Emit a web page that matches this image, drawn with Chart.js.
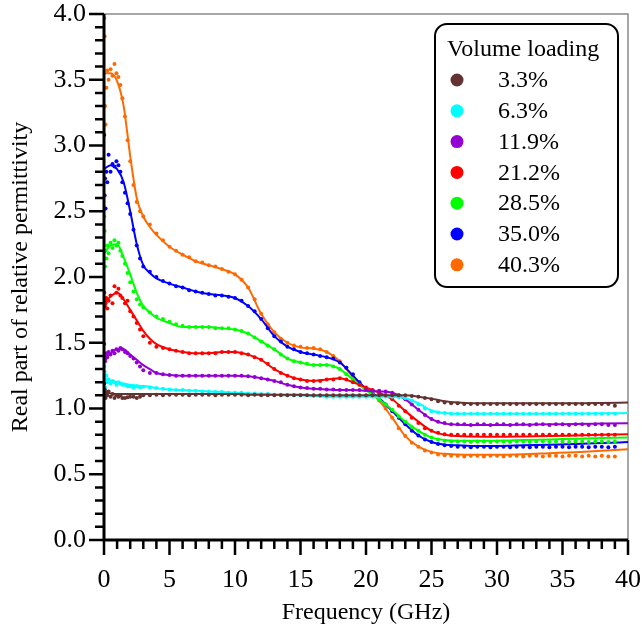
<!DOCTYPE html>
<html>
<head>
<meta charset="utf-8">
<script src="https://cdn.jsdelivr.net/npm/chart.js@4.4.0/dist/chart.umd.min.js"></script>
<style>
  html, body { margin: 0; padding: 0; background: #fff; }
  #wrap { width: 642px; height: 637px; }
</style>
</head>
<body>
<div id="wrap"><canvas id="chart" width="642" height="637"></canvas></div>
<script>
// Fitted curves (GHz)
const fitFreq = [0, 0.5, 1, 1.5, 2, 2.5, 3, 3.5, 4, 5, 6, 7, 8, 9, 10, 11, 12, 13, 14, 15, 16, 17, 18, 19, 20,
                 21, 22, 23, 24, 25, 26, 27, 28, 30, 32, 34, 36, 38, 40];

const fit33  = [1.12, 1.115, 1.11, 1.11, 1.11, 1.11, 1.11, 1.11, 1.11, 1.11, 1.11, 1.11, 1.11, 1.11, 1.11, 1.105, 1.105, 1.105, 1.105, 1.105, 1.10, 1.10, 1.10, 1.10, 1.10,
                1.10, 1.10, 1.10, 1.09, 1.075, 1.055, 1.045, 1.04, 1.04, 1.04, 1.04, 1.04, 1.042, 1.045];
const fit63  = [1.22, 1.21, 1.20, 1.19, 1.18, 1.175, 1.17, 1.165, 1.155, 1.145, 1.14, 1.135, 1.13, 1.125, 1.12, 1.115, 1.11, 1.105, 1.10, 1.10, 1.095, 1.09, 1.09, 1.09, 1.09,
                1.09, 1.09, 1.08, 1.04, 0.985, 0.965, 0.96, 0.96, 0.96, 0.96, 0.96, 0.962, 0.963, 0.965];
const fit119 = [1.38, 1.42, 1.45, 1.45, 1.41, 1.37, 1.33, 1.30, 1.27, 1.255, 1.25, 1.25, 1.25, 1.25, 1.25, 1.245, 1.23, 1.21, 1.18, 1.16, 1.15, 1.145, 1.14, 1.14, 1.135,
                1.13, 1.12, 1.07, 0.99, 0.92, 0.885, 0.877, 0.875, 0.875, 0.877, 0.88, 0.882, 0.885, 0.888];
const fit212 = [1.80, 1.85, 1.88, 1.83, 1.75, 1.67, 1.59, 1.53, 1.49, 1.45, 1.43, 1.42, 1.42, 1.43, 1.43, 1.41, 1.37, 1.30, 1.25, 1.22, 1.21, 1.22, 1.23, 1.20, 1.16,
                1.12, 1.07, 0.98, 0.90, 0.83, 0.80, 0.79, 0.787, 0.785, 0.787, 0.79, 0.795, 0.80, 0.805];
const fit285 = [2.18, 2.24, 2.25, 2.15, 2.02, 1.88, 1.78, 1.73, 1.69, 1.65, 1.62, 1.62, 1.62, 1.61, 1.60, 1.57, 1.51, 1.45, 1.38, 1.35, 1.33, 1.33, 1.30, 1.22, 1.14,
                1.07, 0.99, 0.90, 0.83, 0.78, 0.76, 0.755, 0.755, 0.755, 0.76, 0.765, 0.77, 0.775, 0.78];
const fit350 = [2.82, 2.85, 2.82, 2.72, 2.50, 2.25, 2.09, 2.03, 1.99, 1.95, 1.92, 1.89, 1.87, 1.86, 1.84, 1.78, 1.68, 1.55, 1.47, 1.43, 1.41, 1.39, 1.35, 1.25, 1.15,
                1.08, 0.98, 0.88, 0.795, 0.745, 0.725, 0.72, 0.715, 0.715, 0.72, 0.725, 0.73, 0.737, 0.745];
const fit403 = [3.55, 3.55, 3.49, 3.30, 2.92, 2.60, 2.46, 2.38, 2.32, 2.23, 2.17, 2.12, 2.09, 2.06, 2.02, 1.92, 1.72, 1.58, 1.50, 1.465, 1.455, 1.43, 1.36, 1.24, 1.15,
                1.06, 0.93, 0.79, 0.71, 0.67, 0.655, 0.65, 0.648, 0.648, 0.652, 0.66, 0.668, 0.678, 0.69];

// Measured points (GHz)
const measFreq = [0.02, 0.05, 0.08, 0.12, 0.18, 0.25, 0.35, 0.5, 0.65, 0.8, 0.95, 1.1, 1.25, 1.4, 1.6, 1.8, 2.0, 2.25, 2.5, 2.75,
                  3, 3.5, 4, 4.5, 5, 5.5, 6, 6.5, 7, 7.5, 8, 8.5, 9, 9.5, 10,
                  10.5, 11, 11.5, 12, 12.5, 13, 13.5, 14, 14.5, 15, 15.5, 16, 16.5, 17, 17.5,
                  18, 18.5, 19, 19.5, 20, 20.5, 21, 21.5, 22, 22.5, 23, 23.5, 24, 24.5, 25,
                  25.5, 26, 26.5, 27, 27.5, 28, 28.5, 29, 29.5, 30, 30.5, 31, 31.5, 32, 32.5,
                  33, 33.5, 34, 34.5, 35, 35.5, 36, 36.5, 37, 37.5, 38, 38.5, 39];

const meas33 = [1.19, 1.10, 1.14, 1.08, 1.12, 1.10, 1.13, 1.09, 1.11, 1.08, 1.10, 1.09, 1.10, 1.08, 1.08, 1.085, 1.09, 1.09, 1.08, 1.09,
                1.10, 1.10, 1.105, 1.10, 1.105, 1.105, 1.105, 1.10, 1.105, 1.105, 1.105, 1.10, 1.105, 1.105, 1.105,
                1.105, 1.10, 1.105, 1.10, 1.10, 1.10, 1.10, 1.10, 1.10, 1.10, 1.10, 1.10, 1.10, 1.10, 1.10,
                1.10, 1.10, 1.10, 1.10, 1.10, 1.10, 1.10, 1.10, 1.10, 1.10, 1.10, 1.095, 1.09, 1.08, 1.07,
                1.055, 1.045, 1.04, 1.04, 1.035, 1.035, 1.035, 1.035, 1.035, 1.035, 1.035, 1.035, 1.035, 1.035, 1.035,
                1.035, 1.035, 1.035, 1.035, 1.035, 1.035, 1.035, 1.035, 1.035, 1.035, 1.035, 1.035, 1.02];
const meas63 = [1.32, 1.28, 1.16, 1.22, 1.25, 1.20, 1.22, 1.19, 1.21, 1.20, 1.18, 1.20, 1.19, 1.18, 1.18, 1.17, 1.17, 1.16, 1.17, 1.16,
                1.165, 1.16, 1.155, 1.15, 1.145, 1.14, 1.14, 1.135, 1.135, 1.13, 1.13, 1.125, 1.125, 1.12, 1.12,
                1.12, 1.115, 1.115, 1.11, 1.11, 1.105, 1.105, 1.10, 1.10, 1.10, 1.10, 1.095, 1.095, 1.09, 1.09,
                1.09, 1.09, 1.09, 1.09, 1.09, 1.09, 1.09, 1.09, 1.09, 1.085, 1.08, 1.06, 1.03, 1.00, 0.98,
                0.97, 0.965, 0.96, 0.96, 0.96, 0.96, 0.96, 0.96, 0.96, 0.96, 0.96, 0.96, 0.96, 0.96, 0.96,
                0.96, 0.96, 0.96, 0.96, 0.96, 0.96, 0.96, 0.96, 0.96, 0.96, 0.96, 0.96, 0.96];
const meas119 = [1.49, 1.40, 1.36, 1.38, 1.42, 1.39, 1.43, 1.41, 1.44, 1.42, 1.45, 1.44, 1.46, 1.45, 1.43, 1.42, 1.40, 1.38, 1.35, 1.32,
                 1.29, 1.27, 1.27, 1.26, 1.255, 1.25, 1.25, 1.25, 1.25, 1.25, 1.25, 1.25, 1.25, 1.25, 1.25,
                 1.25, 1.245, 1.24, 1.23, 1.22, 1.21, 1.20, 1.18, 1.17, 1.16, 1.155, 1.15, 1.15, 1.145, 1.145,
                 1.14, 1.14, 1.14, 1.14, 1.14, 1.135, 1.135, 1.13, 1.12, 1.10, 1.07, 1.03, 0.99, 0.95, 0.92,
                 0.90, 0.89, 0.88, 0.88, 0.88, 0.875, 0.88, 0.88, 0.875, 0.88, 0.88, 0.875, 0.88, 0.88, 0.875,
                 0.88, 0.88, 0.875, 0.88, 0.88, 0.875, 0.88, 0.88, 0.875, 0.88, 0.88, 0.875, 0.875];
const meas212 = [1.88, 1.82, 1.78, 1.80, 1.84, 1.76, 1.82, 1.86, 1.80, 1.93, 1.88, 1.91, 1.86, 1.84, 1.80, 1.82, 1.74, 1.70, 1.65, 1.60,
                 1.55, 1.50, 1.47, 1.46, 1.45, 1.44, 1.43, 1.42, 1.42, 1.42, 1.42, 1.42, 1.43, 1.43, 1.43,
                 1.42, 1.41, 1.39, 1.37, 1.34, 1.30, 1.27, 1.25, 1.23, 1.22, 1.21, 1.21, 1.21, 1.22, 1.22,
                 1.23, 1.22, 1.20, 1.18, 1.16, 1.14, 1.12, 1.10, 1.07, 1.02, 0.98, 0.93, 0.89, 0.85, 0.83,
                 0.815, 0.805, 0.80, 0.80, 0.80, 0.80, 0.80, 0.80, 0.80, 0.80, 0.80, 0.80, 0.80, 0.80, 0.80,
                 0.80, 0.80, 0.80, 0.80, 0.80, 0.80, 0.80, 0.80, 0.80, 0.80, 0.80, 0.80, 0.80];
const meas285 = [2.46, 2.35, 2.08, 2.20, 2.14, 2.24, 2.18, 2.26, 2.22, 2.28, 2.24, 2.26, 2.20, 2.16, 2.10, 2.03, 1.96, 1.89, 1.83, 1.79,
                 1.77, 1.73, 1.70, 1.68, 1.66, 1.64, 1.63, 1.62, 1.62, 1.62, 1.62, 1.61, 1.61, 1.61, 1.60,
                 1.59, 1.57, 1.54, 1.51, 1.48, 1.45, 1.41, 1.38, 1.36, 1.35, 1.34, 1.33, 1.33, 1.33, 1.32,
                 1.30, 1.26, 1.22, 1.18, 1.14, 1.11, 1.07, 1.03, 0.99, 0.94, 0.90, 0.86, 0.83, 0.80, 0.78,
                 0.765, 0.755, 0.75, 0.75, 0.75, 0.745, 0.75, 0.75, 0.745, 0.75, 0.75, 0.745, 0.75, 0.75, 0.745,
                 0.75, 0.75, 0.745, 0.75, 0.75, 0.745, 0.75, 0.75, 0.745, 0.75, 0.75, 0.745, 0.75];
const meas350 = [3.08, 2.62, 2.75, 2.52, 2.80, 2.72, 2.93, 2.80, 2.86, 2.84, 2.88, 2.85, 2.80, 2.72, 2.64, 2.56, 2.48, 2.36, 2.24, 2.14,
                 2.08, 2.04, 2.00, 1.97, 1.95, 1.93, 1.92, 1.90, 1.89, 1.88, 1.87, 1.86, 1.86, 1.85, 1.84,
                 1.82, 1.78, 1.74, 1.68, 1.61, 1.55, 1.51, 1.47, 1.45, 1.43, 1.42, 1.41, 1.40, 1.39, 1.38,
                 1.35, 1.31, 1.26, 1.20, 1.15, 1.12, 1.08, 1.03, 0.98, 0.93, 0.88, 0.83, 0.795, 0.765, 0.745,
                 0.73, 0.72, 0.715, 0.71, 0.71, 0.705, 0.71, 0.71, 0.705, 0.71, 0.71, 0.705, 0.71, 0.71, 0.705,
                 0.71, 0.71, 0.705, 0.71, 0.71, 0.705, 0.71, 0.71, 0.705, 0.71, 0.71, 0.705, 0.71];
const meas403 = [3.97, 3.83, 3.30, 3.16, 3.44, 3.57, 3.50, 3.58, 3.53, 3.62, 3.55, 3.52, 3.46, 3.36, 3.22, 3.04, 2.88, 2.70, 2.57, 2.50,
                 2.46, 2.40, 2.33, 2.28, 2.23, 2.20, 2.17, 2.15, 2.12, 2.11, 2.09, 2.08, 2.06, 2.04, 2.02,
                 1.98, 1.92, 1.83, 1.72, 1.64, 1.58, 1.53, 1.50, 1.48, 1.47, 1.46, 1.46, 1.45, 1.43, 1.40,
                 1.36, 1.31, 1.24, 1.19, 1.15, 1.11, 1.06, 1.00, 0.93, 0.85, 0.79, 0.74, 0.71, 0.68, 0.665,
                 0.65, 0.645, 0.64, 0.64, 0.635, 0.64, 0.64, 0.635, 0.64, 0.64, 0.635, 0.64, 0.64, 0.635, 0.64,
                 0.64, 0.635, 0.64, 0.64, 0.635, 0.64, 0.64, 0.635, 0.64, 0.635, 0.64, 0.635, 0.635];

const seriesLabels = ['3.3%', '6.3%', '11.9%', '21.2%', '28.5%', '35.0%', '40.3%'];
const seriesColors = ['#633331', '#00ffff', '#9400d3', '#ff0000', '#00ff00', '#0000ff', '#ff6a00'];
const fitSeries = [fit33, fit63, fit119, fit212, fit285, fit350, fit403];
const measSeries = [meas33, meas63, meas119, meas212, meas285, meas350, meas403];

const legendTitle = 'Volume loading';
const serif = '"Liberation Serif", "Times New Roman", serif';

function toPoints(xs, ys) {
    return xs.map((x, i) => ({ x: x, y: ys[i] }));
}

const datasets = [];
seriesLabels.forEach((label, i) => {
    datasets.push({
        label: label + ' fit',
        data: toPoints(fitFreq, fitSeries[i]),
        showLine: true,
        borderColor: seriesColors[i],
        borderWidth: 2,
        pointRadius: 0,
        cubicInterpolationMode: 'monotone',
        fill: false
    });
    datasets.push({
        label: label,
        data: toPoints(measFreq, measSeries[i]),
        showLine: false,
        backgroundColor: seriesColors[i],
        borderWidth: 0,
        pointRadius: 2
    });
});

// frame, axis lines and major/minor tick marks
const axesPlugin = {
    id: 'axesPlugin',
    beforeDatasetsDraw(chart) {
        const { ctx, chartArea: a } = chart;
        ctx.save();
        ctx.strokeStyle = '#8a8a8a';
        ctx.lineWidth = 1.5;
        ctx.beginPath();
        ctx.moveTo(a.left, a.top);
        ctx.lineTo(a.right, a.top);
        ctx.lineTo(a.right, a.bottom);
        ctx.stroke();
        ctx.restore();
    },
    afterDatasetsDraw(chart) {
        const { ctx, chartArea: a, scales } = chart;
        const x = scales.x, y = scales.y;
        ctx.save();
        ctx.strokeStyle = '#000';
        ctx.lineWidth = 3;
        ctx.lineCap = 'butt';
        ctx.beginPath();
        ctx.moveTo(a.left, a.top);
        ctx.lineTo(a.left, a.bottom);
        ctx.lineTo(a.right, a.bottom);
        ctx.stroke();

        ctx.lineWidth = 2.5;
        ctx.beginPath();
        for (let k = 0; k <= 40; k++) {
            const len = k % 5 === 0 ? 15 : 9;
            const py = y.getPixelForValue(k / 10);
            ctx.moveTo(a.left, py);
            ctx.lineTo(a.left - len, py);
            const px = x.getPixelForValue(k);
            ctx.moveTo(px, a.bottom);
            ctx.lineTo(px, a.bottom + len);
        }
        ctx.stroke();
        ctx.restore();
    },
    afterDraw(chart) {
        const ctx = chart.ctx;
        const bx = 435, by = 24, bw = 183, bh = 263, r = 12;
        ctx.save();
        ctx.beginPath();
        ctx.roundRect(bx, by, bw, bh, r);
        ctx.fillStyle = '#fff';
        ctx.fill();
        ctx.lineWidth = 2;
        ctx.strokeStyle = '#000';
        ctx.stroke();

        ctx.fillStyle = '#000';
        ctx.textBaseline = 'middle';
        ctx.textAlign = 'left';
        ctx.font = '24px ' + serif;
        ctx.fillText(legendTitle, 447, 50);

        seriesLabels.forEach((label, i) => {
            const cy = 80 + i * 30.8;
            ctx.beginPath();
            ctx.arc(457, cy, 6.5, 0, Math.PI * 2);
            ctx.fillStyle = seriesColors[i];
            ctx.fill();
            ctx.fillStyle = '#000';
            ctx.fillText(label, 498, cy + 1);
        });
        ctx.restore();
    }
};

Chart.defaults.font.family = serif;
Chart.defaults.color = '#000';

new Chart(document.getElementById('chart'), {
    type: 'scatter',
    data: { datasets: datasets },
    plugins: [axesPlugin],
    options: {
        responsive: false,
        animation: false,
        devicePixelRatio: 1,
        layout: { padding: { top: 14, right: 14, bottom: 0, left: 0 } },
        plugins: {
            legend: { display: false },
            tooltip: { enabled: false }
        },
        scales: {
            x: {
                type: 'linear',
                min: 0,
                max: 40,
                // tick marks are drawn by the plugin; tickLength only reserves room
                grid: { display: false, drawTicks: true, tickLength: 27 },
                border: { display: false },
                ticks: {
                    stepSize: 5,
                    autoSkip: false,
                    maxRotation: 0,
                    padding: 0,
                    font: { size: 26, lineHeight: 1 },
                    color: '#000'
                },
                title: {
                    display: true,
                    text: 'Frequency (GHz)',
                    font: { size: 24 },
                    padding: { top: 0, bottom: 10 }
                },
                afterFit(scale) { scale.height = 97; }
            },
            y: {
                type: 'linear',
                min: 0,
                max: 4,
                grid: { display: false, drawTicks: true, tickLength: 18 },
                border: { display: false },
                ticks: {
                    stepSize: 0.5,
                    padding: 0,
                    font: { size: 26, lineHeight: 1 },
                    color: '#000',
                    callback: v => v.toFixed(1)
                },
                title: {
                    display: true,
                    text: 'Real part of relative permittivity',
                    font: { size: 24 },
                    padding: { top: 6, bottom: 0 }
                },
                afterFit(scale) { scale.width = 104; }
            }
        }
    }
});
</script>
</body>
</html>
